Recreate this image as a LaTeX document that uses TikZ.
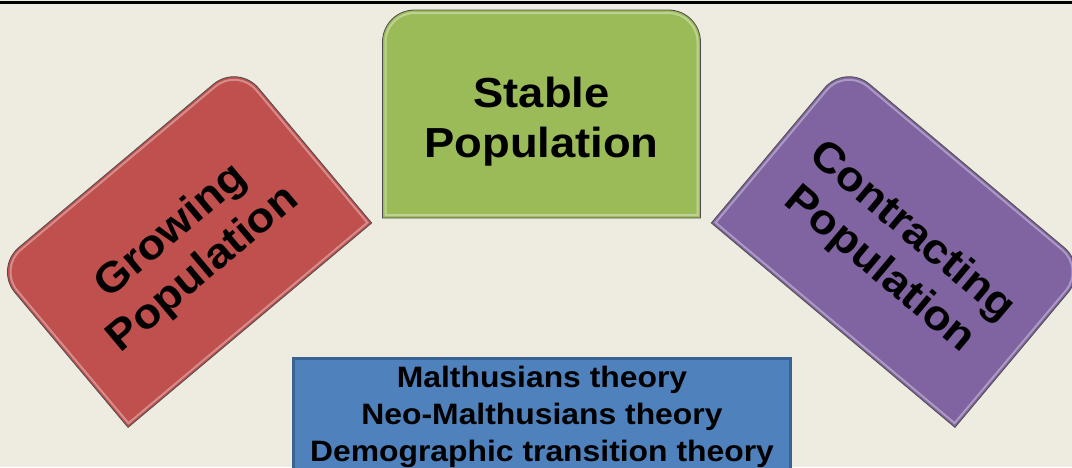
\documentclass[tikz,border=0pt]{standalone}
\usepackage{fontspec}
\setmainfont{Liberation Sans}
\newfontfamily\widefont[FakeStretch=1.08]{Liberation Sans}
\definecolor{bg}{HTML}{EEECE1}
\definecolor{redbox}{HTML}{C0504D}
\definecolor{greenbox}{HTML}{9BBB59}
\definecolor{purplebox}{HTML}{8064A2}
\definecolor{bluebox}{HTML}{4F81BD}
\definecolor{blueedge}{HTML}{3A6293}
\newcommand\RTBox[1]{%
  \draw[boxline, fill=#1] (-159,-104) -- (-159,72) arc[start angle=180,end angle=90,radius=32pt] -- (127,104) arc[start angle=90,end angle=0,radius=32pt] -- (159,-104) -- cycle;
  \draw[bevel] (-156,-101) -- (-156,72) arc[start angle=180,end angle=90,radius=29pt] -- (127,101) arc[start angle=90,end angle=0,radius=29pt] -- (156,-101) -- cycle;
}
\begin{document}
\begin{tikzpicture}[x=1pt,y=-1pt,
  boxline/.style={draw=black!70, line width=0.8pt},
  bevel/.style={draw=white, draw opacity=0.35, line width=2pt},
  ttl/.style={font=\widefont\bfseries\fontsize{42}{50}\selectfont, inner sep=0pt, anchor=base},
  thy/.style={font=\widefont\bfseries\fontsize{29.5}{37}\selectfont, inner sep=0pt, anchor=base}]
\useasboundingbox (0,0) rectangle (1072,467);
\fill[bg] (0,0) rectangle (1072,467);
\draw[line width=3pt] (0,2.5) -- (1072,2.5);

% blue theories box
\draw[fill=bluebox, draw=blueedge, line width=3pt] (293.5,358.5) rectangle (790.5,472);
\node[thy] (t1) at (542,387) {Malthusians theory};
\node[thy] (t2) at (542,424) {Neo-Malthusians theory};
\node[thy] (t3) at (542,461) {Demographic transition theory};

% green stable
\begin{scope}[shift={(541.5,114)}, x=1pt, y=1pt]
  \RTBox{greenbox}
  \node[ttl, transform shape] (s1) at (0,7) {Stable};
  \node[ttl, transform shape] (s2) at (0,-43) {Population};
\end{scope}

% red growing
\begin{scope}[shift={(183,245.5)}, rotate=40, x=1pt, y=1pt]
  \RTBox{redbox}
  \node[ttl, transform shape] (g1) at (0,7) {Growing};
  \node[ttl, transform shape] (g2) at (0,-43) {Population};
\end{scope}

% purple contracting
\begin{scope}[shift={(900,245.5)}, rotate=-40, x=1pt, y=1pt]
  \RTBox{purplebox}
  \node[ttl, transform shape] (c1) at (0,7) {Contracting};
  \node[ttl, transform shape] (c2) at (0,-43) {Population};
\end{scope}
\end{tikzpicture}
\end{document}
